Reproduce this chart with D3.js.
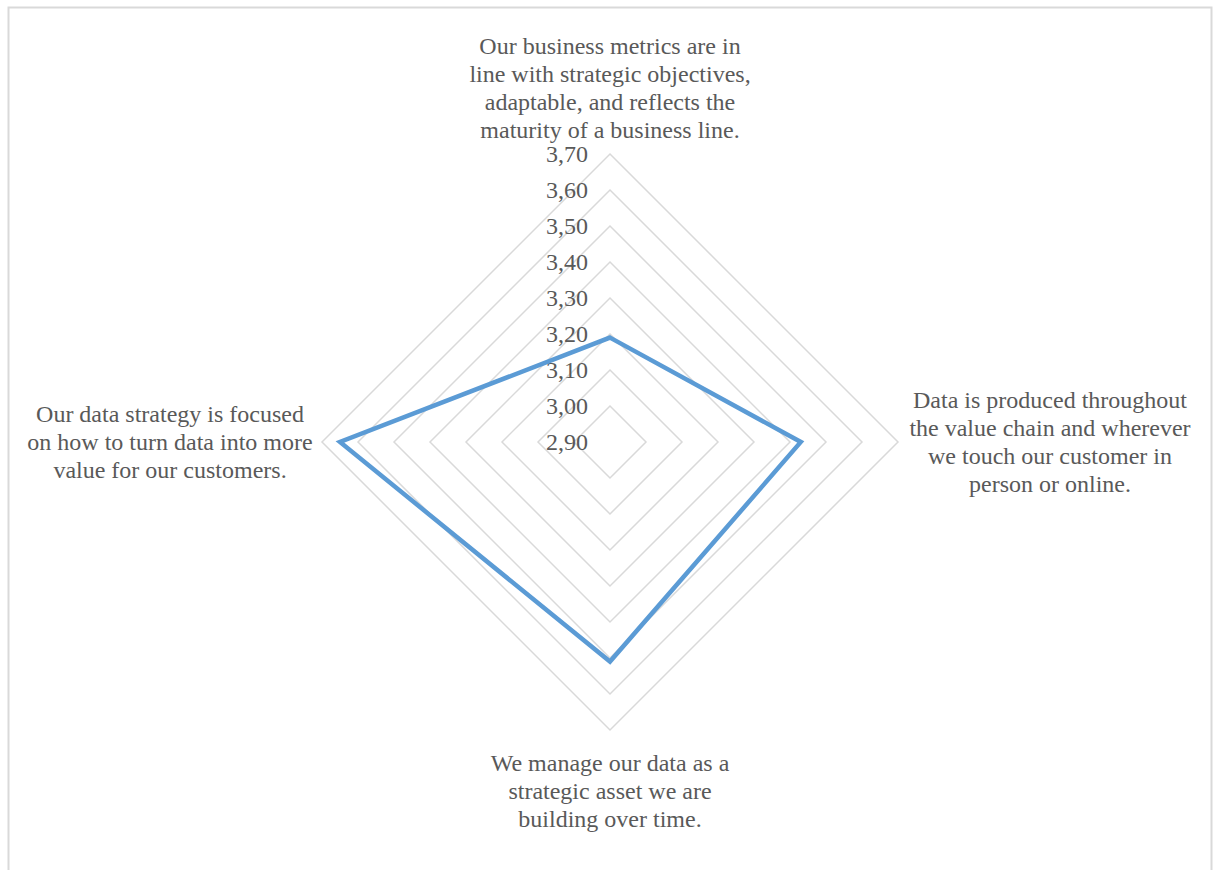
<!DOCTYPE html>
<html>
<head>
<meta charset="utf-8">
<script src="https://cdn.jsdelivr.net/npm/d3@7"></script>
<style>
  body { margin: 0; background: #fff; }
  text { font-family: "Liberation Serif", "Times New Roman", serif; fill: #595959; }
</style>
</head>
<body>
<div id="chart"></div>
<script>
// axis labels (clockwise from top), one array of lines per axis
var categories = [
  ["Our business metrics are in", "line with strategic objectives,", "adaptable, and reflects the", "maturity of a business line."],
  ["Data is produced throughout", "the value chain and wherever", "we touch our customer in", "person or online."],
  ["We manage our data as a", "strategic asset we are", "building over time."],
  ["Our data strategy is focused", "on how to turn data into more", "value for our customers."]
];
var values = [3.19, 3.43, 3.51, 3.65];
var ticks = [2.90, 3.00, 3.10, 3.20, 3.30, 3.40, 3.50, 3.60, 3.70];

var width = 1218, height = 870;
var cx = 610, cy = 442, radius = 288;

var svg = d3.select("#chart")
  .append("svg")
    .attr("width", width)
    .attr("height", height);

// chart frame
svg.append("rect")
  .attr("x", 8.5).attr("y", 7.5)
  .attr("width", 1203).attr("height", 880)
  .attr("fill", "none")
  .attr("stroke", "#d9d9d9")
  .attr("stroke-width", 2);

var g = svg.append("g")
  .attr("transform", "translate(" + cx + "," + cy + ")");

var r = d3.scaleLinear()
  .domain([d3.min(ticks), d3.max(ticks)])
  .range([0, radius]);

var angle = function(i) { return i * 2 * Math.PI / categories.length; };
var pt = function(v, i) {
  return [r(v) * Math.sin(angle(i)), -r(v) * Math.cos(angle(i))];
};

// grid diamonds
g.selectAll(".grid")
  .data(ticks.slice(1))
  .enter()
  .append("polygon")
    .attr("points", function(t) {
      return categories.map(function(c, i) { return pt(t, i).join(","); }).join(" ");
    })
    .attr("fill", "none")
    .attr("stroke", "#d9d9d9")
    .attr("stroke-width", 1.5);

// tick labels
var fmt = function(t) { return d3.format(".2f")(t).replace(".", ","); };
g.selectAll(".tick")
  .data(ticks)
  .enter()
  .append("text")
    .attr("x", -22)
    .attr("y", function(t) { return -r(t) + 8; })
    .attr("text-anchor", "end")
    .style("font-size", "24px")
    .text(fmt);

// data line
var line = d3.line().curve(d3.curveLinearClosed);
g.append("path")
  .attr("d", line(values.map(pt)))
  .attr("fill", "none")
  .attr("stroke", "#5b9bd5")
  .attr("stroke-width", 4.5)
  .attr("stroke-linejoin", "miter");

// category labels
var lineH = 28;
var labelPos = [
  {x: 0, y: -radius - 16, anchor: "bottom"},
  {x: 440, y: 0, anchor: "middle"},
  {x: 0, y: radius + 20, anchor: "top"},
  {x: -440, y: 0, anchor: "middle"}
];
categories.forEach(function(lines, i) {
  var p = labelPos[i], n = lines.length, y0;
  if (p.anchor === "bottom") y0 = p.y - (n - 1) * lineH;
  else if (p.anchor === "top") y0 = p.y + 21;
  else y0 = p.y - (n - 1) * lineH / 2 + 8;
  var t = g.append("text")
    .attr("text-anchor", "middle")
    .style("font-size", "24px");
  lines.forEach(function(s, k) {
    t.append("tspan").attr("x", p.x).attr("y", y0 + k * lineH).text(s);
  });
});
</script>
</body>
</html>
